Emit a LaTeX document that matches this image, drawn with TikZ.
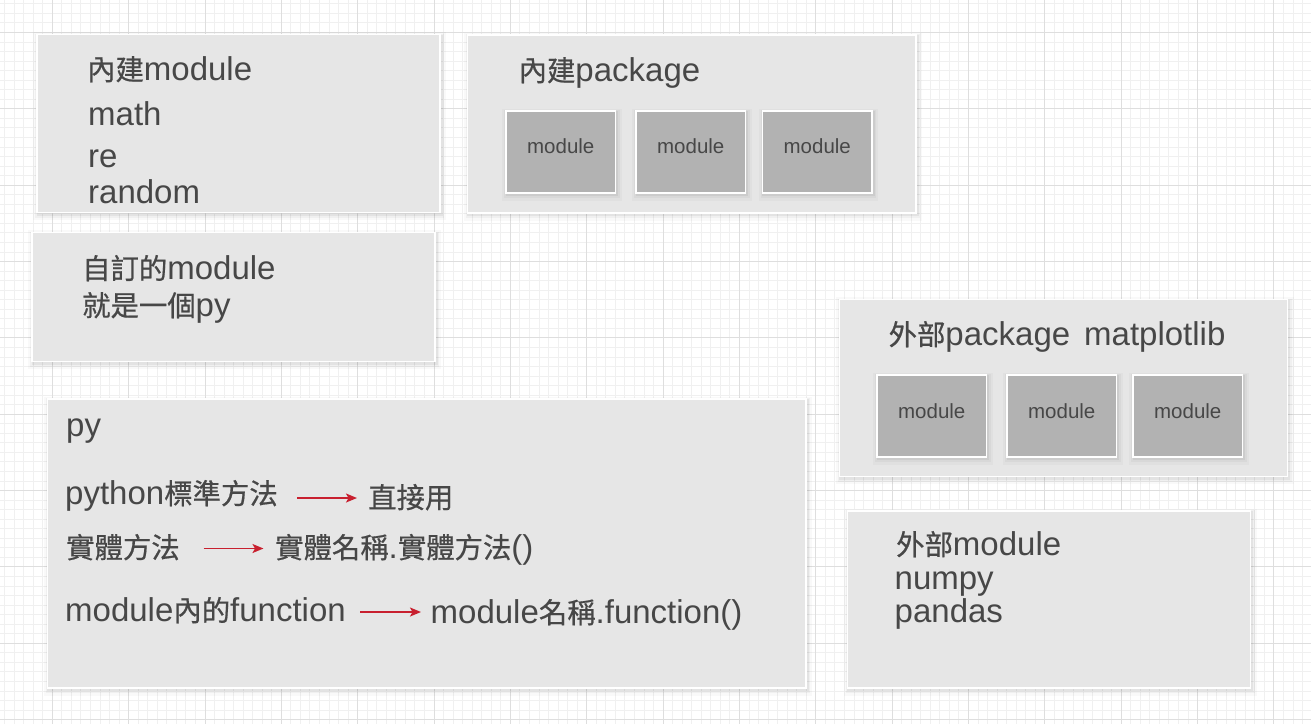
\documentclass[tikz,border=0pt]{standalone}
\usepackage{fontspec}
\setmainfont{Liberation Sans}
\newfontfamily\cjk[Scale=0.86,FakeBold=0.6]{Noto Sans CJK TC}
\usetikzlibrary{arrows.meta}
\definecolor{gridminor}{HTML}{F0F0F0}
\definecolor{gridmajor}{HTML}{DEDEDE}
\definecolor{panelfill}{HTML}{E6E6E6}
\definecolor{modfill}{HTML}{B2B2B2}
\definecolor{txt}{HTML}{474747}
\definecolor{arrowred}{HTML}{C8202F}
\newcommand{\zh}[1]{{\cjk #1}}
\begin{document}
\begin{tikzpicture}[x=1pt,y=-1pt,
  shadowed/.style={
    preaction={draw=black, draw opacity=0.025, line width=10pt, transform canvas={shift={(1pt,-2.5pt)}}},
    preaction={draw=black, draw opacity=0.035, line width=6pt, transform canvas={shift={(1pt,-2pt)}}},
    preaction={draw=black, draw opacity=0.05, line width=3pt, transform canvas={shift={(1pt,-1.5pt)}}}},
  panel/.style={shadowed, rectangle, fill=panelfill, draw=white, line width=1.5pt, inner sep=0pt},
  modbox/.style={shadowed, rectangle, fill=modfill, draw=white, line width=1.5pt, inner sep=0pt,
    minimum width=109.5pt, minimum height=82pt},
  lbl/.style={anchor=base west, inner sep=0pt, text=txt, font=\fontsize{33}{39}\selectfont},
  modlbl/.style={anchor=base, inner sep=0pt, text=txt, font=\fontsize{20.5}{24}\selectfont},
  arr/.style={draw=arrowred, line width=1.5pt, -{Stealth[length=11pt,width=9pt,inset=2.5pt]}}
]
\useasboundingbox (0,0) rectangle (1311,724);
\fill[white] (0,0) rectangle (1311,724);
% grid
\begin{scope}
\clip (0,0) rectangle (1311,724);
\foreach \i in {-6,...,133} {
  \pgfmathsetmacro\gx{52.3+9.544*\i}
  \draw[gridminor, line width=1pt] (\gx,0) -- (\gx,724);
}
\foreach \i in {-4,...,73} {
  \pgfmathsetmacro\gy{32.5+9.544*\i}
  \draw[gridminor, line width=1pt] (0,\gy) -- (1311,\gy);
}
\foreach \i in {-1,...,17} {
  \pgfmathsetmacro\gx{52.3+76.35*\i}
  \draw[gridmajor, line width=1pt] (\gx,0) -- (\gx,724);
}
\foreach \i in {-1,...,9} {
  \pgfmathsetmacro\gy{32.5+76.35*\i}
  \draw[gridmajor, line width=1pt] (0,\gy) -- (1311,\gy);
}
\end{scope}
% panels
\node[panel, minimum width=403pt, minimum height=178pt] (builtinmod) at (238.5,123.5) {};
\node[panel, minimum width=448.5pt, minimum height=178pt] (builtinpkg) at (691.75,124) {};
\node[panel, minimum width=448pt, minimum height=177pt] (extpkg) at (1063.5,388) {};
\node[panel, minimum width=403pt, minimum height=129pt] (custommod) at (233.5,297) {};
\node[panel, minimum width=758.5pt, minimum height=289pt] (pybox) at (426.75,543.5) {};
\node[panel, minimum width=403pt, minimum height=177pt] (extmod) at (1049,599.5) {};
% module boxes
\node[modbox] (bm1) at (560.75,152) {};
\node[modbox] (bm2) at (690.75,152) {};
\node[modbox] (bm3) at (817.25,152) {};
\node[modbox] (em1) at (931.75,416) {};
\node[modbox] (em2) at (1061.75,416) {};
\node[modbox] (em3) at (1187.75,416) {};
\node[modlbl] (bm1t) at (560.75,153) {module};
\node[modlbl] (bm2t) at (690.75,153) {module};
\node[modlbl] (bm3t) at (817.25,153) {module};
\node[modlbl] (em1t) at (931.75,418) {module};
\node[modlbl] (em2t) at (1061.75,418) {module};
\node[modlbl] (em3t) at (1187.75,418) {module};
% box 1
\node[lbl] (t1) at (87,80) {\zh{內建}module};
\node[lbl] (t1a) at (88,125) {math};
\node[lbl] (t1b) at (88,167.5) {re};
\node[lbl] (t1c) at (88,203) {random};
% box 2
\node[lbl] (t2) at (518.5,81) {\zh{內建}package};
% box 3
\node[lbl] (t3) at (888.5,345) {\zh{外部}package\hspace{14pt}matplotlib};
% box 4
\node[lbl] (t4) at (82,279) {\zh{自訂的}module};
\node[lbl] (t4a) at (82,316) {\zh{就是一個}py};
% box 5
\node[lbl] (t5) at (66,436.5) {py};
\node[lbl] (pystd) at (65,504) {python\zh{標準方法}};
\node[lbl] (direct) at (368,508) {\zh{直接用}};
\node[lbl] (inst) at (66,558) {\zh{實體方法}};
\node[lbl] (instcall) at (275,558) {\zh{實體名稱}.\zh{實體方法}()};
\node[lbl] (modfn) at (65,621) {module\zh{內的}function};
\node[lbl] (modcall) at (430.5,623) {module\zh{名稱}.function()};
\coordinate (a1s) at (297,498);
\coordinate (a1e) at (357,498);
\coordinate (a2s) at (203.5,548.5);
\coordinate (a2e) at (263.5,548.5);
\coordinate (a3s) at (360,612);
\coordinate (a3e) at (421,612);
\draw[arr] (a1s) -- (a1e);
\draw[arr] (a2s) -- (a2e);
\draw[arr] (a3s) -- (a3e);
% box 6
\node[lbl] (t6) at (896,555) {\zh{外部}module};
\node[lbl] (t6a) at (894.5,589) {numpy};
\node[lbl] (t6b) at (894.5,622) {pandas};
\end{tikzpicture}
\end{document}
